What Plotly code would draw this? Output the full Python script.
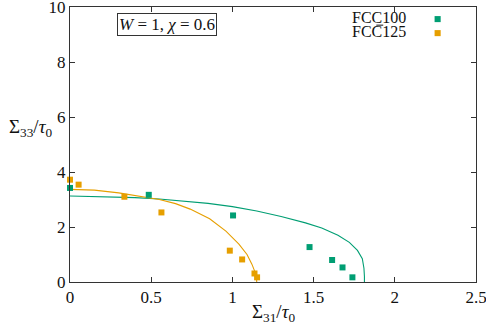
import plotly.graph_objects as go

# Data points
fcc100_x = [0.0, 0.485, 1.004, 1.475, 1.614, 1.678, 1.739]
fcc100_y = [3.42, 3.17, 2.42, 1.27, 0.80, 0.53, 0.17]
fcc125_x = [0.0, 0.053, 0.335, 0.563, 0.984, 1.06, 1.136, 1.152]
fcc125_y = [3.72, 3.54, 3.10, 2.53, 1.14, 0.82, 0.31, 0.17]

# Fitted curves
curve100_x = [0.0, 0.2, 0.4, 0.55, 0.7, 0.85, 1.0, 1.15, 1.3, 1.45, 1.55, 1.65, 1.72, 1.77, 1.80, 1.81, 1.813, 1.813]
curve100_y = [3.13, 3.11, 3.07, 3.02, 2.95, 2.86, 2.74, 2.58, 2.38, 2.15, 1.96, 1.70, 1.44, 1.15, 0.85, 0.50, 0.20, 0.0]
curve125_x = [0.0, 0.15, 0.3, 0.45, 0.55, 0.65, 0.74, 0.86, 0.96, 1.04, 1.09, 1.12, 1.14, 1.148, 1.15]
curve125_y = [3.37, 3.34, 3.24, 3.09, 3.00, 2.85, 2.65, 2.30, 1.85, 1.38, 1.00, 0.65, 0.35, 0.12, 0.0]

x_ticks = [0, 0.5, 1, 1.5, 2, 2.5]
x_tick_labels = ["0", "0.5", "1", "1.5", "2", "2.5"]
y_ticks = [0, 2, 4, 6, 8, 10]
y_tick_labels = ["0", "2", "4", "6", "8", "10"]

GREEN = "#009e73"
ORANGE = "#e69f00"
FONT = "Liberation Serif"
TXT = "#111111"

fig = go.Figure()
fig.add_trace(go.Scatter(x=curve100_x, y=curve100_y, mode="lines",
                         line=dict(color=GREEN, width=1.1), showlegend=False, hoverinfo="skip"))
fig.add_trace(go.Scatter(x=curve125_x, y=curve125_y, mode="lines",
                         line=dict(color=ORANGE, width=1.1), showlegend=False, hoverinfo="skip"))
fig.add_trace(go.Scatter(x=fcc100_x, y=fcc100_y, mode="markers", name="FCC100",
                         marker=dict(symbol="square", size=6, color=GREEN), cliponaxis=False, showlegend=False))
fig.add_trace(go.Scatter(x=fcc125_x, y=fcc125_y, mode="markers", name="FCC125",
                         marker=dict(symbol="square", size=6, color=ORANGE), cliponaxis=False, showlegend=False))

axis_common = dict(showgrid=False, zeroline=False, showline=True, linecolor="#333333", linewidth=1,
                   mirror="ticks", ticks="inside", ticklen=5, tickcolor="#333333",
                   ticklabeloverflow="allow", automargin=False,
                   tickfont=dict(family=FONT, size=17, color=TXT))
fig.update_xaxes(range=[0, 2.5], tickvals=x_ticks, ticktext=x_tick_labels, **axis_common)
fig.update_yaxes(range=[0, 10], tickvals=y_ticks, ticktext=y_tick_labels, **axis_common)

# Legend (gnuplot style: text then key)
fig.add_annotation(xref="paper", yref="paper", x=0.8325, y=0.962, xanchor="right", yanchor="middle",
                   text="FCC100", showarrow=False, font=dict(family=FONT, size=16, color=TXT))
fig.add_annotation(xref="paper", yref="paper", x=0.8325, y=0.911, xanchor="right", yanchor="middle",
                   text="FCC125", showarrow=False, font=dict(family=FONT, size=16, color=TXT))
# overbar on the "1" of FCC125
fig.add_shape(type="line", xref="paper", yref="paper", x0=0.7545, x1=0.7715, y0=0.934, y1=0.934,
              line=dict(color=TXT, width=1))
fig.add_shape(type="rect", xref="paper", yref="paper", x0=0.898, x1=0.913, y0=0.945, y1=0.967,
              fillcolor=GREEN, line=dict(width=0))
fig.add_shape(type="rect", xref="paper", yref="paper", x0=0.898, x1=0.913, y0=0.894, y1=0.916,
              fillcolor=ORANGE, line=dict(width=0))

# Parameter box
fig.add_annotation(xref="paper", yref="paper", x=0.239, y=0.937, xanchor="center", yanchor="middle",
                   text="<i>W</i> = 1, <i>χ</i> = 0.6", showarrow=False,
                   font=dict(family=FONT, size=17, color=TXT),
                   bordercolor="#333333", borderwidth=1, borderpad=1)

# Axis titles
fig.add_annotation(xref="paper", yref="paper", x=-0.0985, y=0.56, xanchor="center", yanchor="middle",
                   text="Σ<sub>33</sub>/<i>τ</i><sub>0</sub>", showarrow=False,
                   font=dict(family=FONT, size=19, color=TXT))
fig.add_annotation(xref="paper", yref="paper", x=0.5, y=-0.113, xanchor="center", yanchor="middle",
                   text="Σ<sub>31</sub>/<i>τ</i><sub>0</sub>", showarrow=False,
                   font=dict(family=FONT, size=19, color=TXT))

fig.update_layout(width=486, height=332, margin=dict(l=70, r=10, t=7, b=50),
                  font=dict(family=FONT, size=17, color=TXT),
                  plot_bgcolor="white", paper_bgcolor="white", showlegend=False)

fig.write_html("out.html")
